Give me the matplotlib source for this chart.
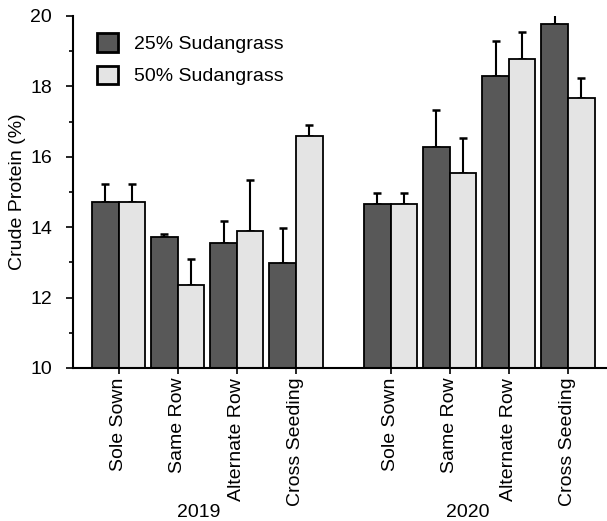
import numpy as np
import matplotlib.pyplot as plt
from matplotlib.patches import Patch
from matplotlib.ticker import MultipleLocator

plt.rcParams['font.family'] = ['Liberation Sans', 'DejaVu Sans']

years = ['2019', '2020']
methods = ['Sole Sown', 'Same Row', 'Alternate Row', 'Cross Seeding']

cp25 = [14.71, 13.71, 13.56, 12.99, 14.65, 16.28, 18.30, 19.77]
err25 = [0.53, 0.09, 0.62, 0.98, 0.32, 1.04, 1.00, 0.70]
cp50 = [14.71, 12.36, 13.88, 16.59, 14.65, 15.54, 18.78, 17.68]
err50 = [0.53, 0.73, 1.45, 0.31, 0.32, 1.00, 0.77, 0.57]

dark = '#585858'
light = '#e4e4e4'

# group centres: 4 per year, with a wider gap between years
x = np.array([0, 1, 2, 3, 4.6, 5.6, 6.6, 7.6])
w = 0.45

fig = plt.figure(figsize=(6.07, 5.21), dpi=100)
ax = fig.add_axes([0.120, 0.2937, 0.880, 0.6756])

ax.bar(x - w / 2, cp25, w, color=dark, edgecolor='black', linewidth=1.3, zorder=2)
ax.bar(x + w / 2, cp50, w, color=light, edgecolor='black', linewidth=1.3, zorder=2)
ax.errorbar(x - w / 2, cp25, yerr=[np.zeros(8), err25], fmt='none', ecolor='black',
            elinewidth=1.5, capsize=2.6, capthick=1.8, zorder=1)
ax.errorbar(x + w / 2, cp50, yerr=[np.zeros(8), err50], fmt='none', ecolor='black',
            elinewidth=1.5, capsize=2.6, capthick=1.8, zorder=1)

ax.set_xlim(-0.773, 8.26)
ax.set_ylim(10, 20)
ax.yaxis.set_major_locator(MultipleLocator(2))
ax.yaxis.set_minor_locator(MultipleLocator(1))
ax.set_xticks(x)
ax.set_xticklabels(methods * 2, rotation=90, fontsize=14)
ax.tick_params(axis='y', which='major', direction='out', length=5, width=1.2, labelsize=14, pad=10)
ax.tick_params(axis='y', which='minor', direction='out', length=3, width=1.2)
ax.tick_params(axis='x', direction='out', length=4, width=1.2, pad=3)

for s in ['top', 'right']:
    ax.spines[s].set_visible(False)
for s in ['left', 'bottom']:
    ax.spines[s].set_linewidth(1.5)

ax.set_ylabel('Crude Protein (%)', fontsize=14)
ax.yaxis.set_label_coords(-0.088, 0.5)

trans = ax.get_xaxis_transform()
ax.text(1.36, -0.41, years[0], transform=trans, ha='center', va='center', fontsize=14)
ax.text(5.90, -0.41, years[1], transform=trans, ha='center', va='center', fontsize=14)

handles = [Patch(facecolor=dark, edgecolor='black', linewidth=2),
           Patch(facecolor=light, edgecolor='black', linewidth=2)]
ax.legend(handles, ['25% Sudangrass', '50% Sudangrass'], loc='upper left',
          bbox_to_anchor=(0.013, 1.0), frameon=False, fontsize=14,
          handlelength=1.05, handleheight=1.05, handletextpad=0.85, labelspacing=0.65)

fig.savefig('out.png', dpi=100)
